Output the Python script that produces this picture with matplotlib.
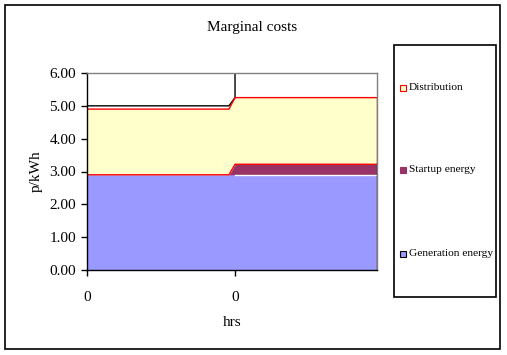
import matplotlib.pyplot as plt
from matplotlib.patches import Rectangle

plt.rcParams['font.family'] = ['Liberation Serif', 'DejaVu Serif']

# hours along the category axis, values in p/kWh
hours = [0, 23.5, 24.5, 48]
generation = [2.9, 2.9, 2.9, 2.9]
startup = [0.0, 0.0, 0.32, 0.32]
distribution = [2.0, 2.0, 2.03, 2.03]

# outline of the unfilled top series
cap_hours = [0, 23.5, 24.5, 24.5]
cap = [5.0, 5.0, 5.25, 6.0]

tick_pos = [0, 24.5]
tick_labels = ['0', '0']
yticks = [0, 1, 2, 3, 4, 5, 6]

W, H = 507, 355
fig = plt.figure(figsize=(W / 100, H / 100), dpi=100)
fig.patch.set_facecolor('white')

# chart area border
fig.add_artist(Rectangle((5 / W, 1 - 349 / H), 495 / W, 344 / H, transform=fig.transFigure,
                         fill=False, edgecolor='black', linewidth=1.2))

ax = fig.add_axes([87 / W, 1 - 270 / H, 290 / W, 197 / H])

base2 = [g + s for g, s in zip(generation, startup)]
top = [b + d for b, d in zip(base2, distribution)]

ax.fill_between(hours, 0, generation, color='#9999FF', linewidth=0)
ax.fill_between(hours, generation, base2, color='#993366', linewidth=0)
ax.fill_between(hours, base2, top, color='#FFFFCC', linewidth=0)
ax.plot(hours[2:], generation[2:], color='white', linewidth=1)
ax.plot(cap_hours, cap, color='black', linewidth=1)
ax.plot(hours, base2, color='red', linewidth=1)
ax.plot(hours, top, color='red', linewidth=1)
ax.plot([48, 48], [0, base2[-1]], color='black', linewidth=1)
ax.plot([48, 48], [base2[-1], top[-1]], color='red', linewidth=1)

ax.set_xlim(0, 48)
ax.set_ylim(0, 6)
ax.set_yticks(yticks)
ax.set_yticklabels(['%.2f' % v for v in yticks], fontsize=11)
ax.set_xticks(tick_pos)
ax.set_xticklabels(tick_labels, fontsize=11)
ax.tick_params(direction='out', length=4, width=1, color='black', pad=4)
ax.tick_params(axis='x', pad=11)

for side in ['top', 'right']:
    ax.spines[side].set_color('#808080')
    ax.spines[side].set_linewidth(1)
for side in ['left', 'bottom']:
    ax.spines[side].set_color('black')
    ax.spines[side].set_linewidth(1)

ax.set_ylabel('p/kWh', fontsize=11, labelpad=5)
ax.set_xlabel('hrs', fontsize=11, labelpad=9)
fig.text(252 / W, 1 - 27 / H, 'Marginal costs', fontsize=11, ha='center', va='center')

# legend box
fig.add_artist(Rectangle((394 / W, 1 - 297 / H), 102 / W, 252 / H, transform=fig.transFigure,
                         fill=False, edgecolor='black', linewidth=1.2))
entries = [('Distribution', '#FFFFCC', 'red', 88),
           ('Startup energy', '#993366', '#993366', 170),
           ('Generation energy', '#9999FF', 'black', 254)]
for label, fc, ec, yy in entries:
    fig.add_artist(Rectangle((400 / W, 1 - (yy + 3) / H), 6 / W, 6 / H, transform=fig.transFigure,
                             facecolor=fc, edgecolor=ec, linewidth=0.8))
    fig.text(409 / W, 1 - yy / H, label, fontsize=8.2, ha='left', va='center')

fig.savefig('out.png', dpi=100)
